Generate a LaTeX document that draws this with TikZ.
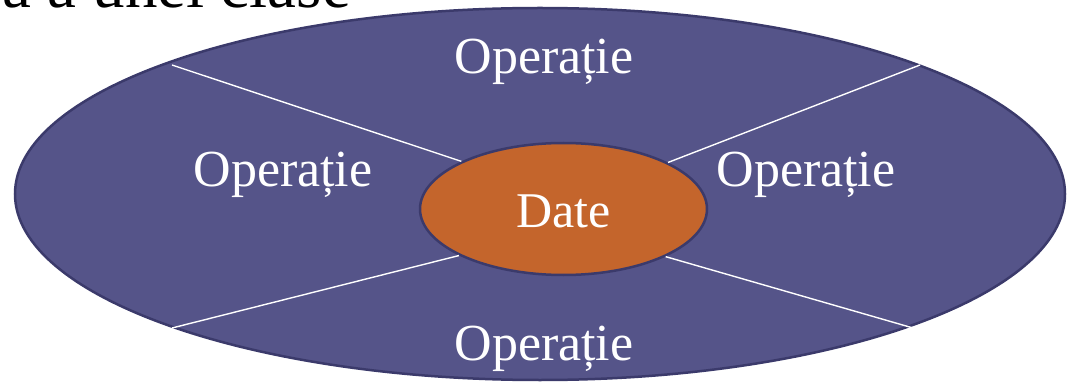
\documentclass[tikz,border=0pt]{standalone}
\usepackage{fontspec}
\setmainfont{Liberation Serif}
\usetikzlibrary{shapes.geometric}
\definecolor{opblue}{HTML}{555489}
\definecolor{rimblue}{HTML}{3B3A6B}
\definecolor{dateorange}{HTML}{C4652C}

\begin{document}
\begin{tikzpicture}[
    x=1pt, y=-1pt,
    ring/.style={ellipse, draw=rimblue, line width=2.5pt, inner sep=0pt},
    optext/.style={text=white, anchor=base, inner sep=0pt, font=\fontsize{52}{60}\selectfont},
    sep/.style={draw=white, line width=1.4pt},
]
\useasboundingbox (0,0) rectangle (1071,382);

% title line, cut by the page edge
\node[anchor=base east, inner sep=0pt, font=\fontsize{65}{70}\selectfont] (title) at (351,8) {a a unei clase};

% outer ring of operations and the data core
\node[ring, fill=opblue, minimum width=1050pt, minimum height=372pt] (outer) at (540,194) {};
\node[ring, fill=dateorange, minimum width=287pt, minimum height=132pt] (inner) at (563.5,209) {};

% rim ends of the dividers
\coordinate (rimnw) at (172,65);
\coordinate (rimne) at (920,65);
\coordinate (rimsw) at (172,328);
\coordinate (rimse) at (920,330);

\draw[sep] (rimnw) -- (inner.155.2);
\draw[sep] (rimne) -- (inner.24.8);
\draw[sep] (rimsw) -- (inner.204.8);
\draw[sep] (rimse) -- (inner.335.2);

\node[optext] (optop) at (544,74) {Operație};
\node[optext] (opleft) at (283,187) {Operație};
\node[optext] (opright) at (806,187) {Operație};
\node[optext] (opbottom) at (544,360) {Operație};
\node[optext, font=\fontsize{50}{60}\selectfont] (data) at (563.5,228) {Date};
\end{tikzpicture}
\end{document}
